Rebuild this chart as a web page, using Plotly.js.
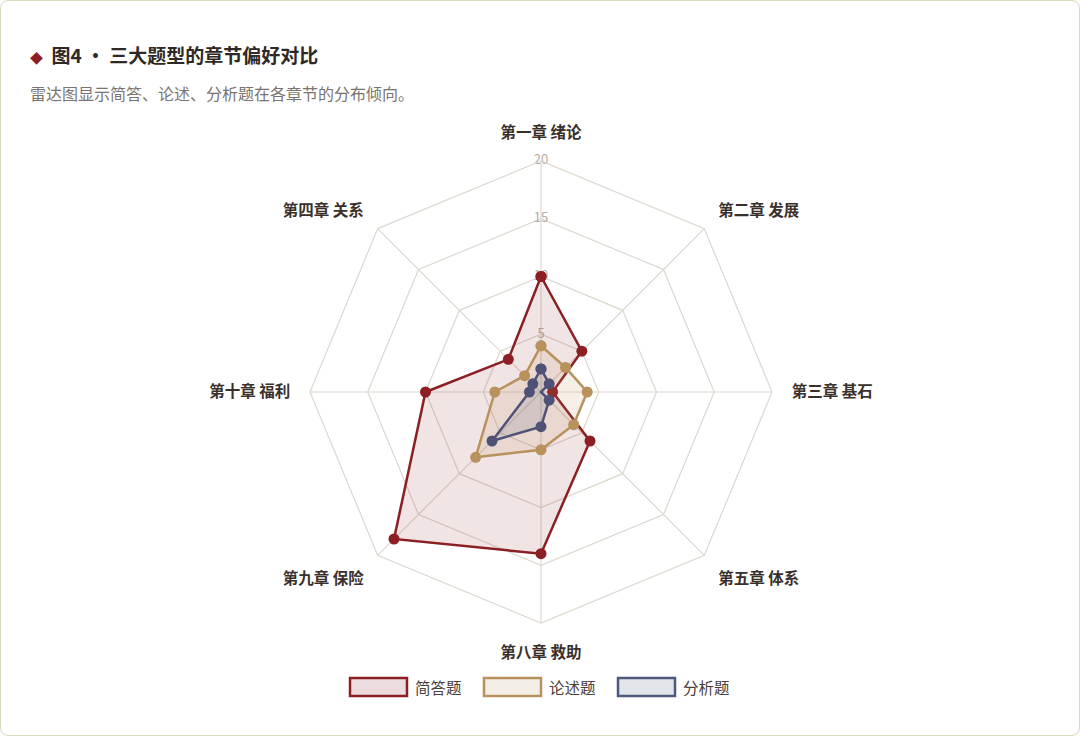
<!DOCTYPE html>
<html>
<head>
<meta charset="utf-8">
<script src="https://cdn.plot.ly/plotly-3.0.1.min.js"></script>
<style>
  body { margin: 0; background: #ffffff; }
  #chart { width: 1080px; height: 736px; box-sizing: border-box; border: 1px solid #dcd8c0; border-radius: 8px; overflow: hidden; }
</style>
</head>
<body>
<div id="chart"></div>
<script>
var chapters = ['第一章 绪论', '第二章 发展', '第三章 基石', '第五章 体系', '第八章 救助', '第九章 保险', '第十章 福利', '第四章 关系'];
var seriesNames = ['简答题', '论述题', '分析题'];
var shortAnswer = [10, 5, 1, 6, 14, 18, 10, 4];
var essay = [4, 3, 4, 4, 5, 8, 4, 2];
var analysis = [2, 1, 0, 1, 3, 6, 1, 1];
var radialTicks = [5, 10, 15, 20];

var lineColors = ['#8b1f24', '#b8915c', '#4f5276'];
var legendBorders = ['#8b1f24', '#b8915c', '#4b5a7d'];
var fillColors = ['rgba(139,31,36,0.12)', 'rgba(184,145,92,0.14)', 'rgba(75,90,125,0.14)'];
var legendFills = ['#eddcdd', '#f4efe6', '#e3e5ea'];

function closeLoop(arr) { return arr.concat([arr[0]]); }

// radial tick numbers sit on the top spoke, under the series
var data = [{
    type: 'scatterpolar',
    r: radialTicks,
    theta: radialTicks.map(function () { return chapters[0]; }),
    mode: 'text',
    text: radialTicks.map(String),
    textposition: 'middle center',
    textfont: {size: 13, color: '#b3ada5'},
    showlegend: false,
    hoverinfo: 'skip'
}];

var allSeries = [shortAnswer, essay, analysis];
for (var i = 0; i < allSeries.length; i++) {
    data.push({
        type: 'scatterpolar',
        r: closeLoop(allSeries[i]),
        theta: closeLoop(chapters),
        name: seriesNames[i],
        mode: 'lines+markers',
        fill: 'toself',
        fillcolor: fillColors[i],
        line: {color: lineColors[i], width: 2.5},
        marker: {color: lineColors[i], size: 11},
        showlegend: false,
        hoverinfo: 'skip'
    });
}

// legend drawn as boxes + labels under the chart
var shapes = [];
var annotations = [];
var boxX = [349, 483, 617];
for (var j = 0; j < seriesNames.length; j++) {
    shapes.push({
        type: 'rect', xref: 'paper', yref: 'paper',
        x0: boxX[j] / 1080, x1: (boxX[j] + 57) / 1080,
        y0: 1 - 695 / 736, y1: 1 - 677 / 736,
        line: {color: legendBorders[j], width: 2.5},
        fillcolor: legendFills[j]
    });
    annotations.push({
        xref: 'paper', yref: 'paper', x: (boxX[j] + 63) / 1080, y: 1 - 686 / 736,
        xanchor: 'left', yanchor: 'middle', showarrow: false,
        text: seriesNames[j],
        font: {size: 15.5, color: '#4a403a'}
    });
}

annotations.push({
    xref: 'paper', yref: 'paper', x: 27 / 1080, y: 1 - 53 / 736,
    xanchor: 'left', yanchor: 'middle', showarrow: false,
    text: '<span style="color:#8b1f24;font-size:13px">◆</span>  <b>图4 · 三大题型的章节偏好对比</b>',
    font: {size: 19, color: '#2f2824'}
});
annotations.push({
    xref: 'paper', yref: 'paper', x: 27 / 1080, y: 1 - 92 / 736,
    xanchor: 'left', yanchor: 'middle', showarrow: false,
    text: '雷达图显示简答、论述、分析题在各章节的分布倾向。',
    font: {size: 16, color: '#7a7470'}
});

var layout = {
    width: 1080,
    height: 736,
    margin: {l: 0, r: 0, t: 0, b: 0},
    paper_bgcolor: 'rgba(0,0,0,0)',
    font: {family: '"Noto Sans CJK SC", "Noto Sans", sans-serif'},
    showlegend: false,
    polar: {
        domain: {x: [309 / 1080, 771 / 1080], y: [(345 - 231) / 736, (345 + 231) / 736]},
        bgcolor: 'rgba(0,0,0,0)',
        gridshape: 'linear',
        radialaxis: {
            range: [0, 20],
            tickvals: radialTicks,
            showticklabels: false,
            angle: 90,
            showline: false,
            ticks: '',
            gridcolor: '#ddd8cf',
            gridwidth: 1.2
        },
        angularaxis: {
            rotation: 90,
            direction: 'clockwise',
            linecolor: '#ddd8cf',
            linewidth: 1.2,
            gridcolor: '#ddd8cf',
            gridwidth: 1.2,
            ticks: 'outside',
            ticklen: 16,
            tickcolor: 'rgba(0,0,0,0)',
            tickfont: {size: 15.5, color: '#3a302b', weight: 'bold'}
        }
    },
    shapes: shapes,
    annotations: annotations
};

Plotly.newPlot('chart', data, layout, {displayModeBar: false, staticPlot: true});
</script>
</body>
</html>
